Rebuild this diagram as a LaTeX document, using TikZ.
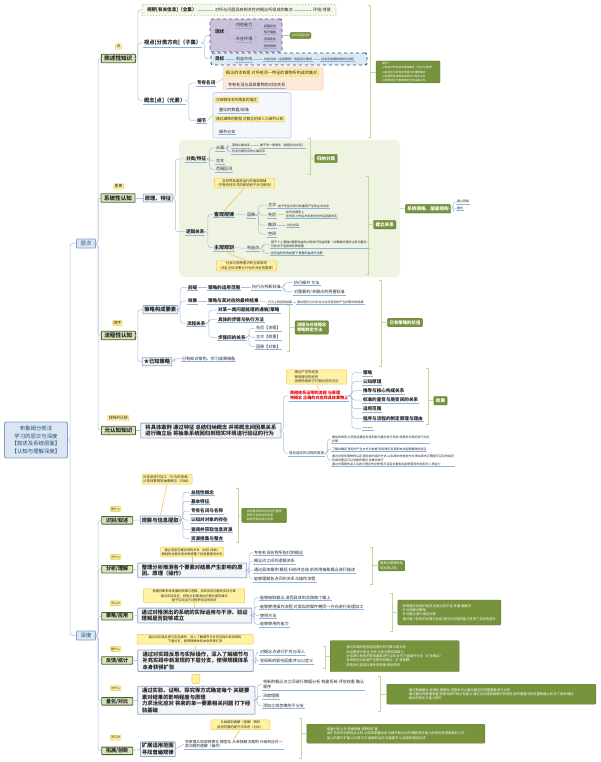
\documentclass[tikz,border=0pt]{standalone}
\usepackage{fontspec}
\setmainfont{Noto Sans CJK SC}
\usetikzlibrary{calc}
\definecolor{lineblue}{HTML}{A9BFDA}
\definecolor{ulblue}{HTML}{8DB3E2}
\definecolor{secdraw}{HTML}{4F6228}
\definecolor{secfill}{HTML}{D7E4BD}
\definecolor{tagdraw}{HTML}{F0C23B}
\definecolor{tagfill}{HTML}{FFF3A3}
\definecolor{bigdraw}{HTML}{8EA9C8}
\definecolor{bigfill}{HTML}{F3F5F9}
\definecolor{gfill}{HTML}{77933C}
\definecolor{gdraw}{HTML}{5E7A2E}
\definecolor{notefill}{HTML}{FFF2A3}
\definecolor{notedraw}{HTML}{F3C84B}
\definecolor{brkcol}{HTML}{C4D79B}
\definecolor{panel}{HTML}{EEF3E2}
\definecolor{txt}{HTML}{262626}
\definecolor{rootfill}{HTML}{DCE6F2}
\definecolor{rootdraw}{HTML}{7F9FCF}
\definecolor{roottxt}{HTML}{1F4E79}
\definecolor{purfill}{HTML}{CCC1DA}
\definecolor{purdraw}{HTML}{5F497A}
\definecolor{bluefill}{HTML}{DBE9F5}
\definecolor{bluedraw}{HTML}{1F4E79}
\definecolor{orfill}{HTML}{FDE9D9}
\definecolor{ordraw}{HTML}{F9C9A0}
\definecolor{lbfill}{HTML}{F4F7FB}
\definecolor{lbdraw}{HTML}{B8CCE4}
\definecolor{fovfill}{HTML}{F3F8EA}
\definecolor{fovdraw}{HTML}{9BBB59}
\definecolor{redtxt}{HTML}{E60000}
\newcommand\Fsec{\fontsize{5.6}{6.5}\selectfont\bfseries}
\newcommand\Fbig{\fontsize{5.3}{6.6}\selectfont\bfseries}
\newcommand\Ftopic{\fontsize{4.6}{5.6}\selectfont\bfseries}
\newcommand\Fitem{\fontsize{4.1}{5}\selectfont}
\newcommand\Fsmall{\fontsize{3.5}{4.3}\selectfont}
\newcommand\Ftiny{\fontsize{3}{3.8}\selectfont}
\newcommand\Ftag{\fontsize{3.8}{4.5}\selectfont}
\newcommand\Fnote{\fontsize{3.4}{4.3}\selectfont}
\newcommand\Fg{\fontsize{3.3}{4.3}\selectfont}
\newcommand\lk[2]{\draw[conn] (#1) -- ++(2.5,0) |- (#2);}
\newcommand\brak[4]{\draw[brk] (#1-2.5,#2) -- (#1,#2) -- (#1,#3) -- (#1-2.5,#3); \draw[brk] (#4.west -| #1,0) -- (#4.west);}
\tikzset{
 every node/.style={inner sep=1pt, outer sep=0pt, text=txt},
 conn/.style={draw=lineblue, line width=0.5pt, rounded corners=3pt},
 nconn/.style={draw=notedraw, line width=0.6pt},
 ul/.style={append after command={(\tikzlastnode.south west) edge[draw=ulblue,line width=0.45pt] (\tikzlastnode.south east)}},
 sec/.style={draw=secdraw, fill=secfill, line width=0.9pt, font=\Fsec, minimum height=8.5pt, minimum width=34pt, inner xsep=2pt, rounded corners=0.6pt},
 tagbox/.style={draw=tagdraw, fill=tagfill, line width=0.4pt, font=\Ftag, inner sep=1pt, rounded corners=0.8pt},
 big/.style={draw=bigdraw, fill=bigfill, line width=0.8pt, font=\Fbig, align=left, inner sep=1.5pt, rounded corners=0.6pt},
 topic/.style={font=\Ftopic, ul, anchor=west},
 btopic/.style={font=\Fbig, ul, anchor=west},
 item/.style={font=\Fitem, ul, anchor=west, align=left},
 small/.style={font=\Fsmall, ul, anchor=west, align=left},
 tiny/.style={font=\Ftiny, ul, anchor=west, align=left},
 gbox/.style={fill=gfill, draw=gdraw, line width=0.4pt, text=white, rounded corners=1pt, align=left, font=\Fg, inner sep=1.5pt},
 note/.style={fill=notefill, draw=notedraw, line width=0.5pt, font=\Fnote, align=center, rounded corners=0.8pt, inner sep=1.2pt},
 brk/.style={draw=brkcol, line width=0.7pt},
 root/.style={draw=rootdraw, fill=rootfill, line width=0.9pt, rounded corners=2pt, align=center, font=\fontsize{5.4}{7.6}\selectfont, text=roottxt, minimum width=63pt, minimum height=36pt},
 lvl/.style={draw=rootdraw, fill=rootfill, line width=0.8pt, font=\fontsize{5.4}{6}\selectfont, text=roottxt, minimum width=19pt, minimum height=9pt, rounded corners=0.6pt},
}
\begin{document}
\begin{tikzpicture}[x=1pt,y=-1pt]
\useasboundingbox (0,0) rectangle (600,762);
\fill[white] (0,0) rectangle (600,762);
% containers
\node[fill=panel, rounded corners=5pt, minimum width=221pt, minimum height=137pt, inner sep=0pt] (pnl) at (289.5,208.5) {};
\node[draw=fovdraw, fill=fovfill, dotted, line width=0.9pt, minimum width=194pt, minimum height=11.5pt, rounded corners=1pt] (fov) at (239,10) {};
\node[draw=purdraw, fill=purfill, dashed, line width=0.8pt, minimum width=72pt, minimum height=33pt, rounded corners=2pt] (pbox) at (246,35.5) {};
\node[draw=bluedraw, fill=bluefill, dashed, line width=0.9pt, minimum width=156pt, minimum height=12pt, rounded corners=2pt] (tbox) at (289,59) {};
\node[draw=ordraw, fill=orfill, line width=0.5pt, minimum width=100pt, minimum height=23pt, rounded corners=2pt] (obox) at (273,78.5) {};
\node[draw=lbdraw, fill=lbfill, line width=0.6pt, minimum width=78pt, minimum height=45.5pt, rounded corners=2pt] (lbox) at (252,115.3) {};

% root and levels
\node[root] (rt) at (36,440) {布鲁姆分类法\\学习的层次与深度\\【叙述及系统层面】\\【认知与理解深度】};
\node[lvl] (lv1) at (86,243.5) {层次};
\node[lvl] (lv2) at (86,635.5) {深度};

% ===== section 1
\node[tagbox] (t1) at (118.5,46.5) {点};
\node[sec] (s1) at (118.3,58.5) {陈述性知识};
\node[font=\Ftopic, anchor=west] (fovA) at (146,10) {视野[有关信息]（全集）};
\node[font=\Fitem, anchor=west] (fovB) at (214,10) {对所与问题具有相关性的概念所组成的集合};
\node[font=\Fitem, anchor=west] (fovC) at (312,10) {环境/背景};
\node[btopic] (vp) at (143,43) {视点[分类方向]（子集）};
\node[font=\Ftopic, anchor=west] (xz) at (214,32) {现状};
\node[item] (nz) at (235,25) {内在能力};
\node[item] (wz) at (235,39) {外在环境};
\node[tiny] (nz1) at (263,26) {能量状态};
\node[tiny] (wz1) at (263,32) {知识储备};
\node[tiny] (wz2) at (263,39) {资源条件};
\node[tiny] (wz3) at (263,46) {规则限制};
\node[gbox, font=\Ftiny] (gA) at (300.5,35.5) {认知范围内的};
\node[font=\Ftopic, anchor=west] (mb) at (214,59) {目标};
\node[item] (lyx) at (235,59) {利益方向};
\node[tiny] (ly1) at (263,59) {内在诉求（主观意愿）的驱动与需求};
\node[tiny] (ly2) at (320,59) {对业务发展的规划与目标};
\node[btopic] (gn) at (143,100.5) {概念[点]（元素）};
\node[topic] (zy) at (196,83) {专有名词};
\node[note, anchor=west, font=\Fitem] (zy1) at (225,73) {概念的本有是 对所有同一特征的事物所构成的集合};
\node[item] (zy2) at (227,85) {专有名词与具体事物的对应关系};
\node[topic] (xj) at (196,120.5) {细节};
\node[note, anchor=west, font=\fontsize{3.7}{4.5}\selectfont] (xj1) at (215,100) {对细微体系的精准的描述};
\node[item] (xj2) at (218,110) {量化的数据/标准};
\node[note, anchor=west, font=\fontsize{3.7}{4.5}\selectfont] (xj3) at (215,119) {通过细微的数据 对概念的深入与细节认知};
\node[item] (xj4) at (218,131.5) {细节分支};
\node[gbox, font=\fontsize{2.7}{4.1}\selectfont, minimum width=64pt, minimum height=22pt] (g1) at (408,72) {概念：\\以具有共性特征的事物集合（视点与视野）\\以视点区分的特定范围内的事物集合\\以视野限定事物的关联性与相互关系\\以事件特征与事物规定性的关联认知};
\draw[conn] (fovA.east) -- (fovB.west);
\draw[conn] (fovB.east) -- (fovC.west);
\lk{s1.east}{fov.west}
\lk{s1.east}{vp.west}
\lk{s1.east}{gn.west}
\lk{vp.east}{pbox.west}
\lk{vp.east}{tbox.west}
\lk{xz.east}{nz.west}
\lk{xz.east}{wz.west}
\lk{nz.east}{nz1.west}
\lk{wz.east}{wz1.west}
\lk{wz.east}{wz2.west}
\lk{wz.east}{wz3.west}
\draw[conn] (pbox.east) -- (gA.west);
\draw[conn] (mb.east) -- (lyx.west);
\draw[conn] (lyx.east) -- (ly1.west);
\draw[conn] (ly1.east) -- (ly2.west);
\lk{gn.east}{zy.west}
\lk{gn.east}{xj.west}
\draw[conn] (zy.east) -- (obox.west);
\draw[conn] (xj.east) -- (lbox.west);
\brak{370}{5}{137}{g1}

% ===== section 2
\node[tagbox] (t2) at (118.5,186.5) {重要};
\node[sec] (s2) at (118,198) {系统性认知};
\node[big] (yl) at (158,198) {原理、特征};
\node[topic] (fl) at (185,159) {分类/特征};
\node[item] (cs) at (215,148) {从属};
\node[tiny] (cs1) at (231,145.7) {某种从属关系};
\node[tiny] (cs1b) at (259,145.7) {属于同一类事件（层级包含关系）};
\node[tiny] (cs2) at (231,151.7) {包含与被包含的从属关系};
\node[item] (jc) at (215,161) {交叉};
\node[item] (fw) at (215,169.3) {范围区间};
\node[gbox, font=\fontsize{4.6}{5}\selectfont\bfseries, inner sep=2pt] (g2) at (326,158.5) {归纳分类};
\node[note] (n1) at (244.5,183) {自然界和客观运行的客观规律\\（不受任何形式的影响和干涉与影响）};
\node[topic, font=\fontsize{5}{6}\selectfont\bfseries] (kg) at (213,214.3) {客观规律};
\node[item] (yg) at (246,215) {因果};
\node[item] (zc) at (267,205) {主次};
\node[tiny] (zc1) at (277,206) {由于先后次序与权重而产生的主次关系};
\node[item] (xh) at (267,215) {先后};
\node[tiny] (xh1) at (285,214) {在时间顺序上\\在时间上先后次序发生的先后因果关系};
\node[item] (tc) at (267,225) {推测};
\node[tiny] (tc1) at (286,225) {对比关系};
\node[item] (kj) at (267,234) {空间};
\node[topic] (lj) at (185,231.7) {逻辑关系};
\node[topic, font=\fontsize{5}{6}\selectfont\bfseries] (zg) at (213,247.7) {主观规划};
\node[item] (lyd) at (246,248.3) {利益点};
\node[tiny] (zg1) at (270,244) {基于个人/集体/国家利益的认知进行利益权衡（对事物价值的认知与量化）\\分析对于选择的利弊权衡};
\node[tiny] (zg2) at (270,253.3) {在利益优先的前提下 根据利益进行决策};
\node[note] (n2) at (246.5,265.8) {社会与思想意识的主观规则\\（决定主体决策与行为的决定性要素）};
\node[gbox, font=\fontsize{4.6}{5}\selectfont\bfseries, inner sep=2pt] (g3) at (384.7,224.7) {建立关系};
\node[gbox, font=\fontsize{4.6}{5}\selectfont\bfseries, inner sep=2pt] (g4) at (428,208.8) {系统网络、层级结构};
\node[tiny] (g4a) at (456,201.7) {建立网络};
\node[tiny] (g4b) at (456,208.3) {模式};
\draw[conn] (s2.east) -- (yl.west);
\lk{yl.east}{fl.west}
\lk{yl.east}{lj.west}
\lk{fl.east}{cs.west}
\lk{fl.east}{jc.west}
\lk{fl.east}{fw.west}
\lk{cs.east}{cs1.west}
\lk{cs.east}{cs2.west}
\draw[conn] (cs1.east) -- (cs1b.west);
\lk{lj.east}{kg.west}
\lk{lj.east}{zg.west}
\draw[conn] (kg.east) -- (yg.west);
\lk{yg.east}{zc.west}
\lk{yg.east}{xh.west}
\lk{yg.east}{tc.west}
\lk{yg.east}{kj.west}
\draw[conn] (zc.east) -- (zc1.west);
\draw[conn] (xh.east) -- (xh1.west);
\draw[conn] (tc.east) -- (tc1.west);
\draw[conn] (zg.east) -- (lyd.west);
\lk{lyd.east}{zg1.west}
\lk{lyd.east}{zg2.west}
\draw[nconn] (n1.south) -- (kg.north);
\draw[nconn] (n2.north) -- (zg.south);
\brak{310}{138}{174}{g2}
\brak{368}{176}{274}{g3}
\draw[conn] (pnl.east) -- (g4.west);
\lk{g4.east}{g4a.west}
\lk{g4.east}{g4b.west}

% ===== section 3
\node[tagbox] (t3) at (117.3,323) {顺序};
\node[sec] (s3) at (118.3,335.5) {流程性认知};
\node[big] (cl) at (160.3,309.7) {策略构成要素};
\node[topic] (qt) at (187,287.3) {前提};
\node[topic] (qt1) at (207,287.3) {策略的适用范围};
\node[item] (qt2) at (251,287.3) {执行与判断标准};
\node[item] (qt2a) at (293,282.7) {执行细节 方法};
\node[item] (qt2b) at (293,291.7) {对重要的/关键点的把握标准};
\node[topic] (xg) at (187,301) {效果};
\node[topic] (xg1) at (207,301) {策略与其对应的最终结果};
\node[tiny] (xg2) at (267,302.3) {行为上的直观结果};
\node[tiny] (xg3) at (296,302.3) {通过理论与方式 对比出可观测的产生的影响和结果};
\node[topic] (lc) at (186,323.3) {流程关系};
\node[topic] (lc1) at (217,310) {对某一类问题处理的通解/策略};
\node[topic] (lc2) at (217,319.3) {具体的步骤与执行方法};
\node[topic] (lc3) at (217,337.3) {步骤间的关系};
\node[item] (lc3a) at (255,328.3) {先后【流程】};
\node[item] (lc3b) at (255,337.3) {主次【权重】};
\node[item] (lc3c) at (255,346.7) {因果【对象】};
\node[gbox, font=\fontsize{4.2}{5.2}\selectfont\bfseries, inner sep=2pt] (g5) at (311.7,327.5) {流程与对应概念\\策略制定方法};
\node[gbox, font=\fontsize{4.4}{5}\selectfont\bfseries, inner sep=2pt] (g6) at (405,322.5) {已有策略的价值};
\node[big] (yz) at (157,361.7) {★已知策略};
\node[item] (yz1) at (181,358.5) {已有知识架构、学习成果储备};
\draw[conn] (s3.east) -- ++(2.5,0) |- (cl.west);
\lk{s3.east}{yz.west}
\lk{cl.east}{qt.west}
\lk{cl.east}{xg.west}
\lk{cl.east}{lc.west}
\draw[conn] (qt.east) -- (qt1.west);
\draw[conn] (qt1.east) -- (qt2.west);
\lk{qt2.east}{qt2a.west}
\lk{qt2.east}{qt2b.west}
\draw[conn] (xg.east) -- (xg1.west);
\draw[conn] (xg1.east) -- (xg2.west);
\draw[conn] (xg2.east) -- (xg3.west);
\lk{lc.east}{lc1.west}
\lk{lc.east}{lc2.west}
\lk{lc.east}{lc3.west}
\lk{lc3.east}{lc3a.west}
\lk{lc3.east}{lc3b.west}
\lk{lc3.east}{lc3c.west}
\lk{yz.east}{yz1.west}
\brak{289}{305}{351.7}{g5}
\brak{381.7}{280}{366}{g6}

% ===== section 4
\node[tagbox] (t4) at (118.3,418.2) {独特的迁移};
\node[sec] (s4) at (118.5,430.5) {元认知知识};
\node[big, minimum width=140.3pt] (ys) at (210.9,430.5) {将具体案例 通过特征 总结归纳概念 并将概念间因果关系\\进行确立后 将抽象系统回归到现实环境进行验证的行为};
\node[font=\fontsize{4.1}{5}\selectfont\bfseries, text=redtxt, align=left, anchor=west, ul] (rd) at (289,395.8) {再缩体系证明的流程 与原理\\将概念 正确的对应到具体事物上};
\node[note, align=left, minimum width=60pt] (n3) at (316.7,377) {理论产生的经验\\使用理论的经历\\由使用者给它们相对应的记忆};
\node[topic] (ef1) at (362,372.7) {策略};
\node[topic] (ef2) at (362,381.7) {认知原理};
\node[topic] (ef3) at (362,390.7) {推导与核心构成关系};
\node[topic] (ef4) at (362,400) {标准的量变与质变间的关系};
\node[topic] (ef5) at (362,408.7) {适用范围};
\node[topic] (ef6) at (362,418.3) {程序与流程的制定原理与理由};
\node[topic] (ef7) at (362,428.3) {......};
\node[gbox, font=\fontsize{4.6}{5}\selectfont\bfseries, inner sep=2pt] (g7) at (440.5,400.7) {效果};
\node[small] (zx) at (288,453.3) {理论适应的过程的再现};
\node[tiny] (zx1) at (331,439) {模拟的再现 从而验证模型并将判断与概念进行关联 将需求与理论进行对应\\步骤};
\node[tiny] (zx2) at (331,449) {了解并确定 理论的产生方式与依据 利用理论及其影响并能够解释的验证};
\node[tiny] (zx3) at (331,460.5) {通过对现有事物的认定 通过新的组织方式 以实践中的规划方式 得出新的正确而可证实的结论\\形成完整且可以信赖的理论 并推动进行\\通过对事象的深入实践与理论的全体情况 设定并复制出能够使用的机制与人员能力};
\draw[conn] (s4.east) -- (ys.west);
\lk{ys.east}{rd.west}
\lk{ys.east}{zx.west}
\lk{rd.east}{ef1.west}
\lk{rd.east}{ef2.west}
\lk{rd.east}{ef3.west}
\lk{rd.east}{ef4.west}
\lk{rd.east}{ef5.west}
\lk{rd.east}{ef6.west}
\lk{rd.east}{ef7.west}
\lk{zx.east}{zx1.west}
\lk{zx.east}{zx2.west}
\lk{zx.east}{zx3.west}
\draw[nconn] (n3.south) -- (rd.north);
\brak{428.3}{368}{424}{g7}

% ===== depth sections
% s5
\node[note] (n4) at (167,479.2) {对信息进行加工（行为的简单）\\从具体事物到抽象概念（归纳）};
\node[tagbox, font=\fontsize{3}{3.5}\selectfont] (t5) at (115.5,509) {是什么};
\node[sec, minimum width=31pt, minimum height=7.5pt, font=\fontsize{5}{6}\selectfont\bfseries] (s5) at (117.2,520.3) {识别/叙述};
\node[big] (s5b) at (160.2,520) {观察与信息提取};
\node[topic] (a1) at (190,492.3) {总括性概念};
\node[topic] (a2) at (190,501.5) {基本特征};
\node[topic] (a3) at (190,511) {专有名词与名称};
\node[topic] (a4) at (190,520) {认知对对象的存在};
\node[topic] (a5) at (190,529.3) {查阅并获取信息资源};
\node[topic] (a6) at (190,538.3) {资源搜集与整合};
\node[gbox, font=\fontsize{2.9}{4}\selectfont, minimum width=45pt, minimum height=14pt] (g8) at (264.2,515.3) {将观察获取的信息进行整理\\获取可信的信息来源\\有效获取信息与资源};
\draw[conn] (s5.east) -- (s5b.west);
\lk{s5b.east}{a1.west}
\lk{s5b.east}{a2.west}
\lk{s5b.east}{a3.west}
\lk{s5b.east}{a4.west}
\lk{s5b.east}{a5.west}
\lk{s5b.east}{a6.west}
\draw[nconn] (n4.south) -- (s5b.north);
\brak{238}{488}{542}{g8}
% s6
\node[tagbox, font=\fontsize{3}{3.5}\selectfont] (t6) at (115.5,557) {为什么};
\node[sec, minimum width=31pt, minimum height=7.5pt, font=\fontsize{5}{6}\selectfont\bfseries] (s6) at (117.2,569.2) {分析/理解};
\node[note, font=\fontsize{3.2}{4.2}\selectfont] (n5) at (192.2,552) {建立信息在概念间的关系（比较 归纳）\\概括所含概念的关联或整个信息要素的关系};
\node[big, minimum width=109pt] (s6b) at (192.2,570.3) {整理分析推测各个要素对结果产生影响的原\\因、原理（操作）};
\node[item] (b1) at (253,552.7) {专有名词名称所指代的概念};
\node[item] (b2) at (253,561) {概念点之间的逻辑关系};
\node[item] (b3) at (253,570) {通过具体案例 概括 归纳并总结 前将用抽象概念进行描述};
\node[item] (b4) at (253,579) {能够理解各点间的关系与操作流程};
\node[gbox, font=\fontsize{3.3}{4.3}\selectfont] (g9) at (391.7,565.8) {提高对逻辑关系\\的深度认知};
\draw[conn] (s6.east) -- (s6b.west);
\lk{s6b.east}{b1.west}
\lk{s6b.east}{b2.west}
\lk{s6b.east}{b3.west}
\lk{s6b.east}{b4.west}
\draw[nconn] (n5.south) -- (s6b.north);
\brak{372.3}{547.7}{584.3}{g9}
% s7
\node[tagbox, font=\fontsize{3}{3.5}\selectfont] (t7) at (115.5,603.3) {怎么办};
\node[sec, minimum width=31pt, minimum height=7.5pt, font=\fontsize{5}{6}\selectfont\bfseries] (s7) at (117.2,616.2) {策略/应用};
\node[note, font=\fontsize{3.2}{4.3}\selectfont, minimum width=101pt] (n6) at (194.2,595.8) {根据判断系统发展的规律与逻辑，找到实际问题的实际方案\\通过实际验证，检验之前推测出的理论是否属实\\基于实际运行过程来验证的系统};
\node[big, minimum width=114pt] (s7b) at (194.7,615.5) {通过对推测出的系统的实际运用与干涉、验证\\理解是否能够成立};
\node[item] (c1) at (259,597.7) {能够抽取概念 进而具体到实践每个案上};
\node[item] (c2) at (259,606.7) {能够使用操作流程 对类似的案件朝同一方向进行处理加工};
\node[item] (c3) at (259,615.7) {使用方法};
\node[item] (c4) at (259,624.3) {能够使用的能力};
\node[gbox, minimum width=103pt, minimum height=25pt] (g10) at (449.3,612.5) {获得通过实践的收获 自我认知不足 矛盾 再解决\\针对性解决策略\\针对重点进行相应处理\\通过每个阶段的反馈与总结 使应对问题的能力获得了实际的提升};
\draw[conn] (s7.east) -- (s7b.west);
\lk{s7b.east}{c1.west}
\lk{s7b.east}{c2.west}
\lk{s7b.east}{c3.west}
\lk{s7b.east}{c4.west}
\draw[nconn] (n6.south) -- (s7b.north);
\brak{392.7}{593}{631}{g10}
% s8
\node[tagbox, font=\fontsize{3}{3.5}\selectfont] (t8) at (115.5,649) {是什么};
\node[sec, minimum width=31pt, minimum height=7.5pt, font=\fontsize{5}{6}\selectfont\bfseries] (s8) at (117.2,660.5) {反馈/统计};
\node[note, font=\fontsize{3.2}{4.3}\selectfont, minimum width=116pt] (n7) at (195,639.2) {通过对实践反思与实际操作，深入了解细节与补充实践中新发现的\\下层分支，使得规模体系本身获得扩张};
\node[big, minimum width=115.6pt] (s8b) at (195.5,660.7) {通过对实践反思与实际操作，深入了解细节与\\补充实践中新发现的下层分支，使得规模体系\\本身获得扩张};
\node[item] (d1) at (259,652.3) {对概念点进行扩充与深入};
\node[item] (d2) at (259,661) {发现新的影响因素并与以定义};
\node[gbox, minimum width=129pt, minimum height=31pt] (g11) at (394.7,656.2) {通过实践的经验验证理论的可靠与真实性\\对结果进行优化 分析 为优化提供突破口\\对实践中发现的影响要素进行认知 补充下层细节分支（扩张概念）\\发现新的对结果产生影响的概念（扩张视野）\\获取并行或类似事件的数据 提供参照};
\node[note, minimum width=8pt, minimum height=9pt, inner sep=0pt] (ym) at (195.8,678.8) {};
\draw[conn] (s8.east) -- (s8b.west);
\lk{s8b.east}{d1.west}
\lk{s8b.east}{d2.west}
\draw[nconn] (n7.south) -- (s8b.north);
\brak{325}{646}{668}{g11}
% s9
\node[tagbox, font=\fontsize{3}{3.5}\selectfont] (t9) at (115.5,688.3) {为什么};
\node[sec, minimum width=31pt, minimum height=7.5pt, font=\fontsize{5}{6}\selectfont\bfseries] (s9) at (117.2,701.3) {量化/对比};
\node[big, minimum width=117.3pt] (s9b) at (196.3,700.3) {通过实验、证明、探究等方式确定每个 关键要\\素对结果的影响程度与原理\\力求活化应对 将来的单一要素相关问题 打下经\\验基础};
\node[item] (e1) at (262,684.7) {将新的概念点之间进行数据分析 构建系统 评估权重 确认\\顺序};
\node[item] (e2) at (262,696) {深度理解};
\node[item] (e3) at (262,705.7) {添加之前忽略的子分支};
\node[gbox, minimum width=209pt, minimum height=20pt] (g12) at (491.3,694.2) {通过数据量化 标准化 数据化 将原本可以量化概念的完整要素进行认知\\通过量化的数据考量 获得对细节的认知能力 通过对比提高推断的有效性 操作需要中的权重数据认知 并了解关键性\\相对的优化与能力提升};
\draw[conn] (s9.east) -- (s9b.west);
\lk{s9b.east}{e1.west}
\lk{s9b.east}{e2.west}
\lk{s9b.east}{e3.west}
\brak{380}{676.7}{711}{g12}
% s10
\node[tagbox, font=\fontsize{3}{3.5}\selectfont] (t10) at (115.5,737.7) {怎么办};
\node[sec, minimum width=31pt, minimum height=7.5pt, font=\fontsize{5}{6}\selectfont\bfseries] (s10) at (117.2,750.8) {拓展/创新};
\node[big] (s10b) at (157.8,749.2) {扩展适用范围\\寻找普遍规律};
\node[note, font=\fontsize{3.3}{4.3}\selectfont, minimum width=59pt] (n8) at (240.3,724.7) {从局部到通解（类推）辨析\\适用范围的提升与改进（对比）};
\node[small, font=\fontsize{3.8}{4.6}\selectfont] (f1) at (184,744.2) {将原理从局部转换化 模型化 从单独解决案例 升级到应对一\\类问题的通解（操作）};
\node[gbox, minimum width=178pt, minimum height=19pt] (g13) at (395.8,733.7) {能量力的上升 转换视角 视野的扩展\\由扩充知识的新视点认知 从简单提量加深 对细节和元点的理解 提升能力的同时获得更高的上升\\能力的提升扩展 以迁移方式 能推断运用 迅速提升 以成果的概念生成};
\draw[conn] (s10.east) -- (s10b.west);
\draw[conn] (s10b.east) -- (f1.west);
\draw[nconn] (n8.south) -- (f1.north);
\brak{301.7}{718}{758}{g13}

% level connectors
\lk{rt.east}{lv1.west}
\lk{rt.east}{lv2.west}
\lk{lv1.east}{s1.west}
\lk{lv1.east}{s2.west}
\lk{lv1.east}{s3.west}
\lk{lv1.east}{s4.west}
\lk{lv2.east}{s5.west}
\lk{lv2.east}{s6.west}
\lk{lv2.east}{s7.west}
\lk{lv2.east}{s8.west}
\lk{lv2.east}{s9.west}
\lk{lv2.east}{s10.west}
\end{tikzpicture}
\end{document}
